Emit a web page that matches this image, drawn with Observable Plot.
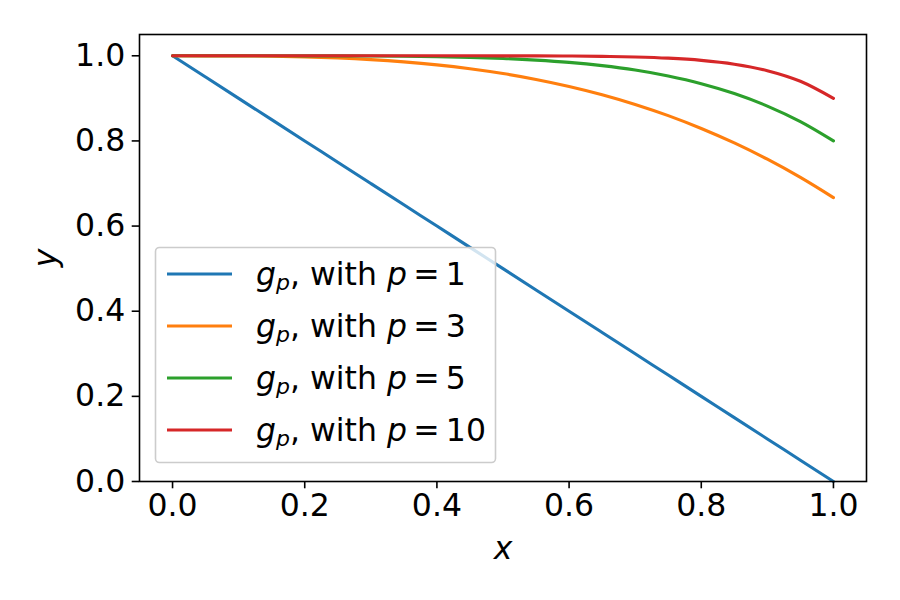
<!DOCTYPE html>
<html>
<head>
<meta charset="utf-8">
<script src="https://cdn.jsdelivr.net/npm/d3@7"></script>
<script src="https://cdn.jsdelivr.net/npm/@observablehq/plot@0.6"></script>
<style>
  html, body { margin: 0; padding: 0; background: #fff; }
</style>
</head>
<body>
<div id="chart"></div>
<script>
// ---- data ----
const xs = [0, 0.05, 0.1, 0.15, 0.2, 0.25, 0.3, 0.35, 0.4, 0.45, 0.5,
            0.55, 0.6, 0.65, 0.7, 0.75, 0.8, 0.85, 0.9, 0.95, 1.0];
const p1  = [1.000, 0.950, 0.900, 0.850, 0.800, 0.750, 0.700, 0.650, 0.600, 0.550, 0.500,
             0.450, 0.400, 0.350, 0.300, 0.250, 0.200, 0.150, 0.100, 0.050, 0.000];
const p3  = [1.0000, 0.9999, 0.9997, 0.9989, 0.9973, 0.9948, 0.9910, 0.9857, 0.9787, 0.9696, 0.9583,
             0.9445, 0.9280, 0.9085, 0.8857, 0.8594, 0.8293, 0.7953, 0.7570, 0.7142, 0.6667];
const p5  = [1.0000, 1.0000, 1.0000, 1.0000, 0.9999, 0.9998, 0.9995, 0.9990, 0.9980, 0.9963, 0.9938,
             0.9899, 0.9845, 0.9768, 0.9664, 0.9525, 0.9345, 0.9113, 0.8819, 0.8453, 0.8000];
const p10 = [1.0000, 1.0000, 1.0000, 1.0000, 1.0000, 1.0000, 1.0000, 1.0000, 1.0000, 1.0000, 0.9999,
             0.9997, 0.9994, 0.9987, 0.9972, 0.9944, 0.9893, 0.9803, 0.9651, 0.9401, 0.9000];
const seriesP = [1, 3, 5, 10];
const seriesValues = [p1, p3, p5, p10];
const colors = ["#1f77b4", "#ff7f0e", "#2ca02c", "#d62728"];
const xTicks = [0, 0.2, 0.4, 0.6, 0.8, 1.0];
const yTicks = [0, 0.2, 0.4, 0.6, 0.8, 1.0];

const rows = [];
seriesP.forEach((p, i) => xs.forEach((x, j) => rows.push({p: String(p), x, y: seriesValues[i][j]})));

const FONT = "DejaVu Sans";
const FS = 31.5;
const LW = 3.1;

const chart = Plot.plot({
  width: 900,
  height: 600,
  marginLeft: 139,
  marginRight: 34,
  marginTop: 34,
  marginBottom: 119,
  style: {fontFamily: FONT, fontSize: FS + "px", color: "#000", background: "#fff"},
  x: {domain: [-0.05, 1.05]},
  y: {domain: [0, 1.05]},
  color: {domain: seriesP.map(String), range: colors},
  marks: [
    Plot.line(rows, {x: "x", y: "y", z: "p", stroke: "p", strokeWidth: LW, curve: "monotone-x"}),
    Plot.axisX({ticks: xTicks, tickFormat: d3.format(".1f"), tickSize: 7.3, tickPadding: 5, strokeWidth: 1.6, fontSize: FS, label: null, fill: "#000"}),
    Plot.axisY({ticks: yTicks, tickFormat: d3.format(".1f"), tickSize: 7.3, tickPadding: 7, strokeWidth: 1.6, fontSize: FS, label: null, fill: "#000"}),
    Plot.frame({stroke: "#000", strokeWidth: 1.6}),
    Plot.text(["x"], {frameAnchor: "bottom", lineAnchor: "middle", textAnchor: "middle", dy: 67, fontStyle: "italic", fontSize: FS, fill: "#000"}),
    Plot.text(["y"], {frameAnchor: "left", lineAnchor: "middle", textAnchor: "middle", dx: -94, rotate: -90, fontStyle: "italic", fontSize: FS, fill: "#000"})
  ]
});

// ---- legend (matplotlib style, lower left) ----
const svg = d3.select(chart);
const lg = svg.append("g").attr("font-family", FONT).attr("font-size", FS).attr("text-anchor", "start");
lg.append("rect")
  .attr("x", 155.5).attr("y", 247.5).attr("width", 340).attr("height", 215)
  .attr("rx", 4).attr("ry", 4)
  .attr("fill", "#fff").attr("fill-opacity", 0.8)
  .attr("stroke", "#cccccc").attr("stroke-width", 1.6);
seriesP.forEach((p, i) => {
  const cy = 274 + i * 52;
  lg.append("line")
    .attr("x1", 167).attr("x2", 232).attr("y1", cy).attr("y2", cy)
    .attr("stroke", colors[i]).attr("stroke-width", LW);
  const t = lg.append("text").attr("x", 256).attr("y", cy + 11).attr("fill", "#000").attr("text-anchor", "start");
  t.append("tspan").attr("font-style", "italic").text("g");
  t.append("tspan").attr("font-style", "italic").attr("font-size", FS * 0.7).attr("dy", 5).text("p");
  t.append("tspan").attr("dy", -5).text(", with ");
  t.append("tspan").attr("font-style", "italic").text("p");
  t.append("tspan").text("\u2009=\u2009" + p);
});

document.getElementById("chart").appendChild(chart);
</script>
</body>
</html>
